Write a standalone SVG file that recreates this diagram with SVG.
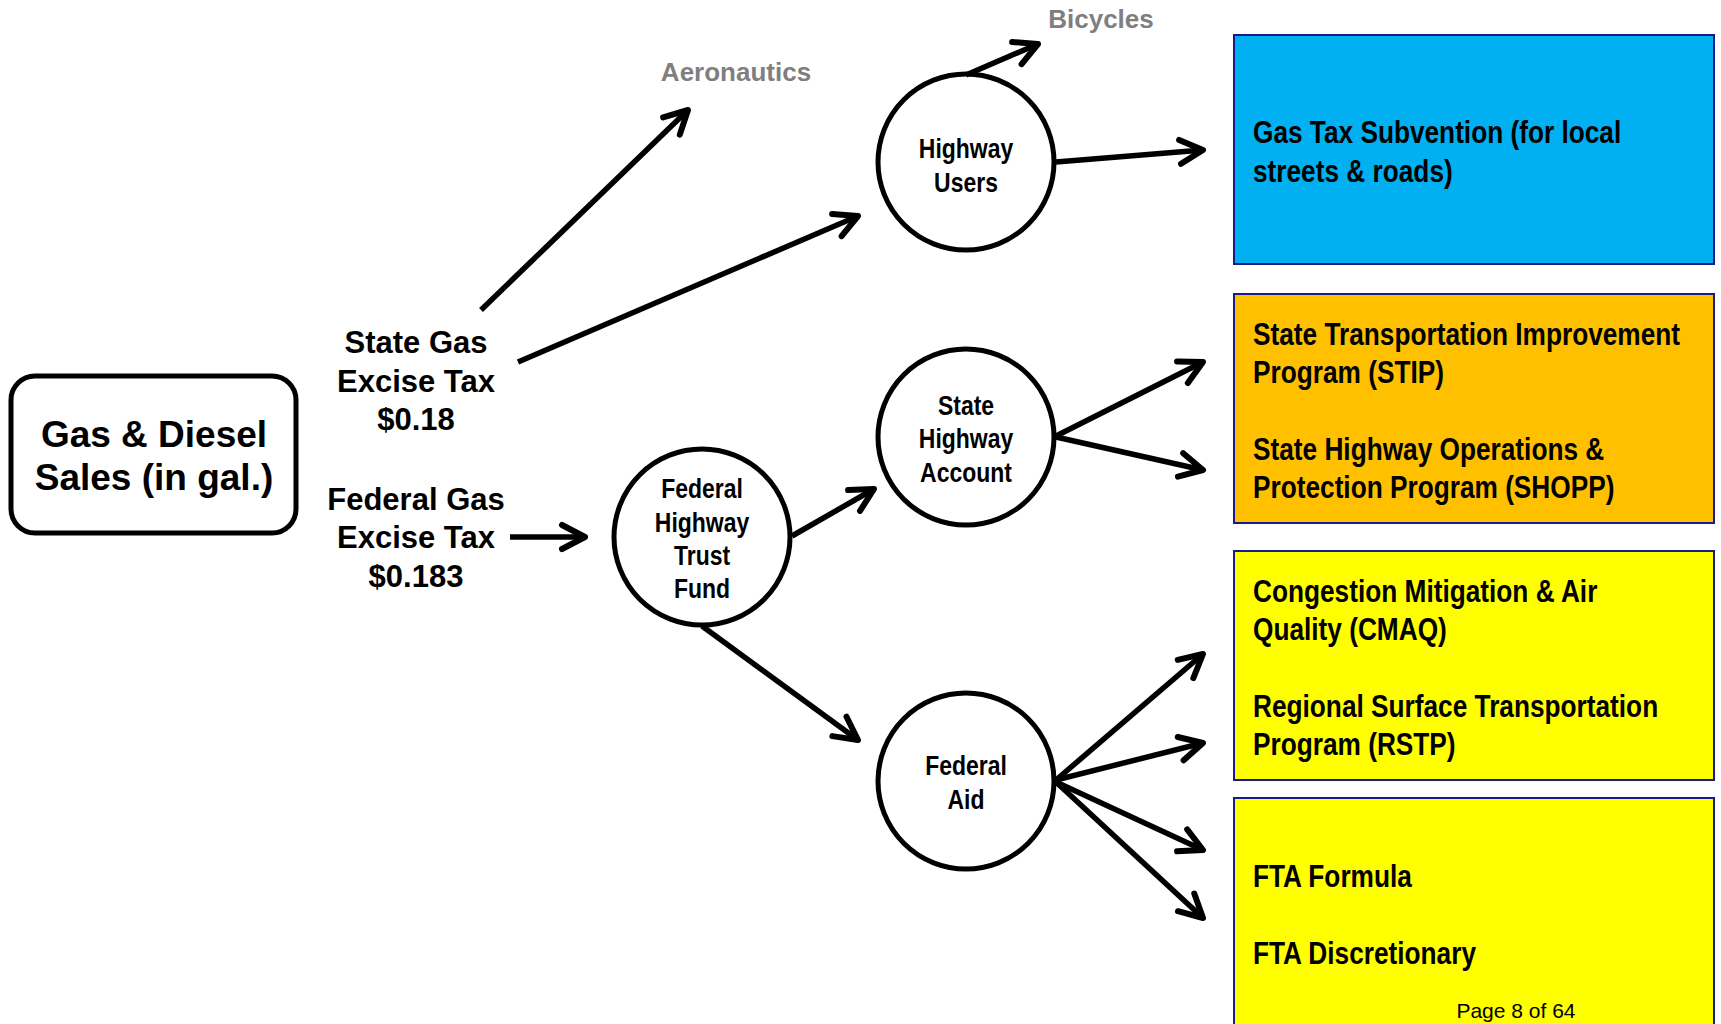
<svg xmlns="http://www.w3.org/2000/svg" width="1721" height="1024" viewBox="0 0 1721 1024">
<style>
.wide{font-family:"Liberation Sans",Arial,sans-serif;font-weight:bold;fill:#000}
.nar{font-family:"Liberation Sans",Arial,sans-serif;font-weight:bold;fill:#000}
.gray{font-family:"Liberation Sans",Arial,sans-serif;font-weight:bold;fill:#7f7f7f;font-size:26px}
.circ{fill:#fff;stroke:#000;stroke-width:5}
.box{stroke:#1a1a8c;stroke-width:2}
.con line{stroke:#000;stroke-width:5.5;marker-end:url(#ah)}
</style>
<defs>
<marker id="ah" markerUnits="userSpaceOnUse" markerWidth="40" markerHeight="40" viewBox="-30 -20 40 40" refX="0" refY="0" orient="auto" overflow="visible">
<path d="M-23,-12 L0,0 L-23,12" fill="none" stroke="#000" stroke-width="6" stroke-linecap="round" stroke-linejoin="round"/>
</marker>
</defs>
<rect width="1721" height="1024" fill="#fff"/>

<g id="source">
<rect x="11" y="376" width="285" height="157" rx="24" fill="#fff" stroke="#000" stroke-width="5"/>
<text class="wide" font-size="37" text-anchor="middle"><tspan x="154" y="447">Gas &amp; Diesel</tspan><tspan x="154" y="490">Sales (in gal.)</tspan></text>
</g>

<g id="state-tax">
<text class="wide" font-size="31" text-anchor="middle"><tspan x="416" y="353">State Gas</tspan><tspan x="416" y="392">Excise Tax</tspan><tspan x="416" y="430">$0.18</tspan></text>
</g>
<g id="federal-tax">
<text class="wide" font-size="31" text-anchor="middle"><tspan x="416" y="510">Federal Gas</tspan><tspan x="416" y="548">Excise Tax</tspan><tspan x="416" y="587">$0.183</tspan></text>
</g>

<g id="aeronautics"><text class="gray" x="736" y="81" text-anchor="middle">Aeronautics</text></g>
<g id="bicycles"><text class="gray" x="1101" y="28" text-anchor="middle">Bicycles</text></g>

<g id="highway-users">
<circle class="circ" cx="966" cy="162" r="88"/>
<text class="nar" font-size="28" text-anchor="middle" transform="translate(966,0) scale(0.82,1)"><tspan x="0" y="158">Highway</tspan><tspan x="0" y="192">Users</tspan></text>
</g>
<g id="state-highway-account">
<circle class="circ" cx="966" cy="437" r="88"/>
<text class="nar" font-size="28" text-anchor="middle" transform="translate(966,0) scale(0.82,1)"><tspan x="0" y="415">State</tspan><tspan x="0" y="448">Highway</tspan><tspan x="0" y="482">Account</tspan></text>
</g>
<g id="fhtf">
<circle class="circ" cx="702" cy="537" r="88"/>
<text class="nar" font-size="28" text-anchor="middle" transform="translate(702,0) scale(0.82,1)"><tspan x="0" y="498">Federal</tspan><tspan x="0" y="532">Highway</tspan><tspan x="0" y="565">Trust</tspan><tspan x="0" y="598">Fund</tspan></text>
</g>
<g id="federal-aid">
<circle class="circ" cx="966" cy="781" r="88"/>
<text class="nar" font-size="28" text-anchor="middle" transform="translate(966,0) scale(0.82,1)"><tspan x="0" y="775">Federal</tspan><tspan x="0" y="809">Aid</tspan></text>
</g>

<g id="gas-tax-subvention">
<rect class="box" x="1234" y="35" width="480" height="229" fill="#00b0f0"/>
<text class="nar" font-size="32" transform="translate(1253,0) scale(0.82,1)"><tspan x="0" y="143">Gas Tax Subvention (for local</tspan><tspan x="0" y="182">streets &amp; roads)</tspan></text>
</g>
<g id="state-programs">
<rect class="box" x="1234" y="294" width="480" height="229" fill="#ffc000"/>
<text class="nar" font-size="32" transform="translate(1253,0) scale(0.82,1)"><tspan x="0" y="345">State Transportation Improvement</tspan><tspan x="0" y="383">Program (STIP)</tspan><tspan x="0" y="460">State Highway Operations &amp;</tspan><tspan x="0" y="498">Protection Program (SHOPP)</tspan></text>
</g>
<g id="federal-programs">
<rect class="box" x="1234" y="551" width="480" height="229" fill="#ffff00"/>
<text class="nar" font-size="32" transform="translate(1253,0) scale(0.82,1)"><tspan x="0" y="602">Congestion Mitigation &amp; Air</tspan><tspan x="0" y="640">Quality (CMAQ)</tspan><tspan x="0" y="717">Regional Surface Transportation</tspan><tspan x="0" y="755">Program (RSTP)</tspan></text>
</g>
<g id="fta-programs">
<rect class="box" x="1234" y="798" width="480" height="240" fill="#ffff00"/>
<text class="nar" font-size="32" transform="translate(1253,0) scale(0.82,1)"><tspan x="0" y="887">FTA Formula</tspan><tspan x="0" y="964">FTA Discretionary</tspan></text>
<text x="1516" y="1018" text-anchor="middle" font-family="Liberation Sans,Arial,sans-serif" font-size="21" fill="#000">Page 8 of 64</text>
</g>

<g id="connectors" class="con">
<line x1="481" y1="310" x2="688" y2="110"/>
<line x1="518" y1="362" x2="858" y2="216"/>
<line x1="510" y1="537" x2="585" y2="537"/>
<line x1="792" y1="536" x2="874" y2="489"/>
<line x1="702" y1="626" x2="858" y2="740"/>
<line x1="966" y1="75" x2="1038" y2="44"/>
<line x1="1056" y1="162" x2="1203" y2="150"/>
<line x1="1056" y1="436" x2="1203" y2="362"/>
<line x1="1056" y1="437" x2="1203" y2="470"/>
<line x1="1056" y1="780" x2="1203" y2="654"/>
<line x1="1056" y1="780" x2="1203" y2="743"/>
<line x1="1056" y1="782" x2="1203" y2="850"/>
<line x1="1056" y1="782" x2="1203" y2="918"/>
</g>
</svg>
